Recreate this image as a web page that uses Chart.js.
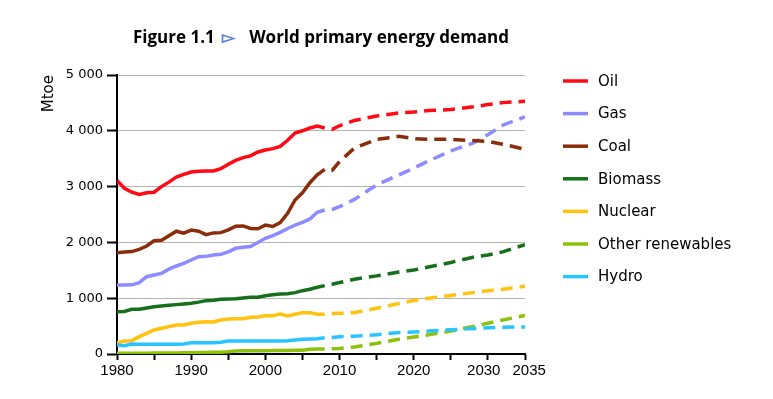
<!DOCTYPE html>
<html>
<head>
<meta charset="utf-8">
<script src="https://cdn.jsdelivr.net/npm/chart.js@4/dist/chart.umd.min.js"></script>
<style>
  body { margin: 0; background: #fff; }
  #wrap { position: relative; width: 773px; height: 399px; }
  #title { position: absolute; left: 133px; top: 25px; white-space: nowrap;
           font: bold 17px "Open Sans", sans-serif; color: #000; }
  #title .tri { color: #5b7fe0; font-weight: bold; font-size: 17px; margin: 0 14px 0 3px; }
  canvas { position: absolute; left: 0; top: 0; }
</style>
</head>
<body>
<div id="wrap">
  <canvas id="chart" width="773" height="399"></canvas>
  <div id="title">Figure 1.1 <span class="tri">&#9659;</span>World primary energy demand</div>
</div>
<script>
// historical data, Mtoe
var histYears = [1980, 1981, 1982, 1983, 1984, 1985, 1986, 1987, 1988, 1989,
                 1990, 1991, 1992, 1993, 1994, 1995, 1996, 1997, 1998, 1999,
                 2000, 2001, 2002, 2003, 2004, 2005, 2006, 2007, 2008];
var oilHist     = [3110, 2970, 2900, 2860, 2890, 2900, 3000, 3080, 3170, 3220, 3260, 3275, 3280, 3280, 3320, 3400, 3470, 3520, 3550, 3620, 3655, 3680, 3720, 3830, 3960, 4000, 4050, 4085, 4050];
var gasHist     = [1237, 1237, 1240, 1280, 1385, 1415, 1445, 1520, 1577, 1625, 1685, 1744, 1750, 1775, 1786, 1830, 1894, 1912, 1925, 2000, 2073, 2120, 2180, 2250, 2310, 2360, 2420, 2540, 2580];
var coalHist    = [1816, 1830, 1835, 1875, 1935, 2030, 2040, 2120, 2200, 2165, 2220, 2200, 2140, 2170, 2175, 2225, 2290, 2295, 2250, 2245, 2310, 2285, 2355, 2520, 2760, 2890, 3070, 3210, 3310];
var biomassHist = [759, 762, 800, 802, 825, 848, 860, 872, 885, 896, 908, 930, 956, 965, 980, 986, 992, 1005, 1016, 1016, 1045, 1060, 1075, 1080, 1100, 1135, 1160, 1195, 1225];
var nuclearHist = [203, 233, 239, 311, 370, 430, 460, 490, 520, 520, 550, 567, 579, 573, 609, 627, 633, 633, 657, 663, 687, 687, 717, 681, 711, 741, 741, 711, 711];
var otherHist   = [12, 12, 13, 14, 15, 16, 17, 18, 20, 22, 24, 26, 28, 30, 33, 40, 55, 58, 60, 60, 60, 61, 62, 63, 65, 66, 85, 90, 90];
var hydroHist   = [161, 149, 179, 175, 173, 173, 173, 173, 175, 179, 203, 203, 203, 203, 210, 233, 233, 233, 233, 233, 233, 233, 235, 239, 250, 263, 268, 275, 290];

// projections
var projYears = [2008, 2009, 2010, 2012, 2015, 2018, 2020, 2022, 2025, 2028, 2030, 2032, 2035];
var oilProj     = [4050, 4025, 4090, 4185, 4265, 4320, 4335, 4365, 4380, 4430, 4470, 4505, 4530];
var gasProj     = [2580, 2590, 2640, 2770, 3030, 3210, 3330, 3460, 3640, 3780, 3930, 4100, 4250];
var coalProj    = [3310, 3290, 3450, 3690, 3845, 3900, 3860, 3847, 3847, 3825, 3810, 3760, 3670];
var biomassProj = [1225, 1250, 1280, 1340, 1400, 1470, 1505, 1560, 1640, 1735, 1775, 1830, 1960];
var nuclearProj = [711, 725, 729, 740, 820, 905, 960, 1000, 1050, 1100, 1135, 1160, 1215];
var otherProj   = [90, 95, 100, 125, 190, 265, 305, 345, 410, 495, 550, 610, 690];
var hydroProj   = [290, 295, 311, 320, 345, 385, 395, 410, 435, 455, 472, 478, 485];

var fuels   = ['Oil', 'Gas', 'Coal', 'Biomass', 'Nuclear', 'Other renewables', 'Hydro'];
var colors  = ['#ff0a14', '#8c8cff', '#8b2d0a', '#16701a', '#ffc20e', '#8cc30a', '#28c4ff'];
var hist    = [oilHist, gasHist, coalHist, biomassHist, nuclearHist, otherHist, hydroHist];
var proj    = [oilProj, gasProj, coalProj, biomassProj, nuclearProj, otherProj, hydroProj];
var yTicks  = [0, 1000, 2000, 3000, 4000, 5000];
// x labels: every 10 years plus the end year; the last two are nudged apart like the original
var xLabels = {1980: '1980', 1990: '1990', 2000: '2000', 2010: '2010', 2020: '2020', 2030: '2030  ', 2035: '  2035'};

function pts(xs, ys) {
    return xs.map(function (x, i) { return {x: x, y: ys[i]}; });
}

var datasets = [];
// draw order: small ones first, oil last
for (var i = fuels.length - 1; i >= 0; i--) {
    datasets.push({
        label: fuels[i], data: pts(histYears, hist[i]),
        borderColor: colors[i], borderWidth: 3.5, pointRadius: 0, fill: false, tension: 0
    });
}
for (var j = fuels.length - 1; j >= 0; j--) {
    datasets.push({
        label: '', data: pts(projYears, proj[j]),
        borderColor: colors[j], borderWidth: 3.5, pointRadius: 0, fill: false, tension: 0,
        borderDash: [12, 7], borderDashOffset: 12
    });
}

function spaced(v) {
    return String(v).replace(/\B(?=(\d{3})+(?!\d))/g, ' ');
}

var chart = new Chart(document.getElementById('chart'), {
    type: 'line',
    data: { datasets: datasets },
    options: {
        responsive: false,
        animation: false,
        layout: { padding: { left: 40, top: 75, right: 248, bottom: 0 } },
        plugins: { legend: { display: false }, tooltip: { enabled: false } },
        scales: {
            x: {
                type: 'linear', min: 1980, max: 2035,
                afterFit: function (s) { s.height = 45; },
                ticks: {
                    stepSize: 5, autoSkip: false, maxRotation: 0, padding: 2, color: '#000',
                    font: { family: 'Liberation Sans', size: 15 },
                    callback: function (v) { return xLabels[v] || ''; }
                },
                grid: { drawOnChartArea: false, tickLength: 6, tickColor: '#000', tickWidth: 2 },
                border: { color: '#000', width: 2 }
            },
            y: {
                min: 0, max: 5000,
                afterFit: function (s) { s.width = 77; },
                afterBuildTicks: function (s) { s.ticks = yTicks.map(function (v) { return {value: v}; }); },
                ticks: {
                    padding: 4, color: '#000',
                    font: { family: 'DejaVu Sans', size: 13 },
                    callback: function (v) { return spaced(v); }
                },
                grid: {
                    // fine dotted guides get lost in the render, a light solid rule reads the same
                    color: function (c) { return c.tick && c.tick.value === 0 ? 'rgba(0,0,0,0)' : '#b4b4b4'; },
                    lineWidth: 1, tickLength: 10, tickColor: '#000', tickWidth: 2
                },
                border: { color: '#000', width: 2 },
                title: {
                    display: true, text: 'Mtoe', align: 'end', color: '#000',
                    font: { family: 'DejaVu Sans', size: 15 }, padding: 0
                }
            }
        }
    },
    plugins: [{
        // legend drawn by hand so rows sit where the original has them
        id: 'sideLegend',
        afterDraw: function (chart) {
            var ctx = chart.ctx;
            ctx.save();
            ctx.font = '15px "DejaVu Sans"';
            ctx.textBaseline = 'middle';
            ctx.fillStyle = '#000';
            fuels.forEach(function (name, k) {
                var y = 81 + k * 32.6;
                ctx.strokeStyle = colors[k];
                ctx.lineWidth = 3.5;
                ctx.beginPath();
                ctx.moveTo(563, y);
                ctx.lineTo(588, y);
                ctx.stroke();
                ctx.fillText(name, 598, y + 1);
            });
            ctx.restore();
        }
    }]
});
</script>
</body>
</html>
